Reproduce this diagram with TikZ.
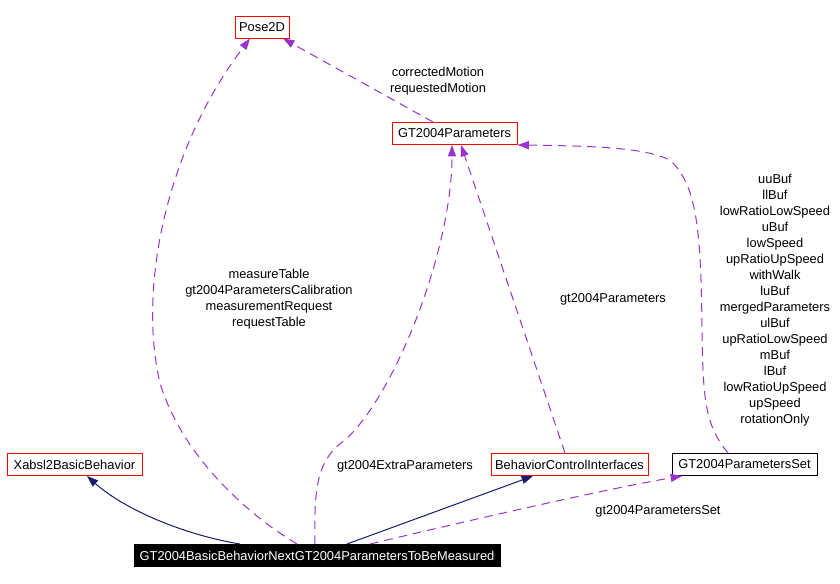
\documentclass[tikz,border=0pt]{standalone}
\usepackage{fontspec}
\setmainfont{Liberation Sans}
\usetikzlibrary{arrows.meta}
\definecolor{usepurple}{RGB}{154,50,205}
\definecolor{inhnavy}{RGB}{25,25,112}
\tikzset{
  cls/.style={draw=red,line width=0.75pt,minimum height=16.5pt,inner xsep=2pt,inner ysep=0pt},
  clsplain/.style={cls,draw=black},
  clsmain/.style={cls,draw=black,fill=black,text=white},
  usage/.style={usepurple,line width=0.75pt,dash pattern=on 6.5pt off 4.5pt,-{Triangle[length=8.5pt,width=6pt]}},
  inherit/.style={inhnavy,line width=0.75pt,-{Triangle[length=8.5pt,width=6pt]}},
  lbl/.style={align=center,inner sep=0pt}
}

\begin{document}
\begin{tikzpicture}[x=0.75pt,y=-0.75pt,font=\fontsize{9.65}{12}\selectfont]
\useasboundingbox (0,0) rectangle (840,583);
\node[cls,minimum width=40.5pt] (pose) at (262,27) {Pose2D};
\node[cls,minimum width=93.75pt] (params) at (454.5,133.5) {GT2004Parameters};
\node[cls,minimum width=101.25pt] (xabsl) at (74.5,464.5) {Xabsl2BasicBehavior};
\node[cls,minimum width=117.75pt] (bci) at (569.5,464.5) {BehaviorControlInterfaces};
\node[clsplain,minimum width=108.75pt] (pset) at (744.5,464.5) {GT2004ParametersSet};
\node[clsmain,minimum width=274.5pt] (main) at (317,555.5) {GT2004BasicBehaviorNextGT2004ParametersToBeMeasured};
\draw[inherit] (240,0 |- main.north) .. controls (185,535) and (125,510) .. (87,0 |- xabsl.south);
\draw[inherit] (347,0 |- main.north) -- (533,0 |- bci.south);
\draw[usage] (370,0 |- main.north) .. controls (450,525) and (600,490) .. (682,0 |- pset.south);
\draw[usage] (297,0 |- main.north) .. controls (240,510) and (180,450) .. (160,383)
  .. controls (138,290) and (165,150) .. (250,0 |- pose.south);
\draw[usage] (315,0 |- main.north) .. controls (314,490) and (316,460) .. (345,440)
  .. controls (395,395) and (452,250) .. (452,0 |- params.south);
\draw[usage] (565,0 |- bci.north) -- (461,0 |- params.south);
\draw[usage] (433,0 |- params.north) -- (283,0 |- pose.south);
\draw[usage] (728,0 |- pset.north) .. controls (705,425) and (703,400) .. (702,330)
  .. controls (701,230) and (697,185) .. (670,160) .. controls (645,148) and (600,146) .. (params.east |- 0,145);
\node[lbl] (lmotion) at (438,81) {correctedMotion\\requestedMotion};
\node[lbl] (lcalib) at (269,299.5) {measureTable\\gt2004ParametersCalibration\\measurementRequest\\requestTable};
\node[lbl] (lextra) at (405,466) {gt2004ExtraParameters};
\node[lbl] (lparams) at (613,299) {gt2004Parameters};
\node[lbl] (lpset) at (658,511) {gt2004ParametersSet};
\node[lbl] (lbufs) at (775,300.5) {uuBuf\\llBuf\\lowRatioLowSpeed\\uBuf\\lowSpeed\\upRatioUpSpeed\\withWalk\\luBuf\\mergedParameters\\ulBuf\\upRatioLowSpeed\\mBuf\\lBuf\\lowRatioUpSpeed\\upSpeed\\rotationOnly};
\end{tikzpicture}
\end{document}
